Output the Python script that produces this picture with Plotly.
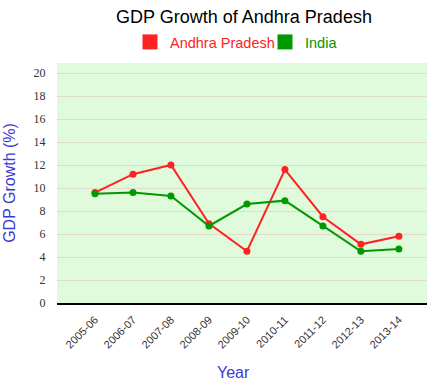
import plotly.graph_objects as go

years = ["2005-06", "2006-07", "2007-08", "2008-09", "2009-10",
         "2010-11", "2011-12", "2012-13", "2013-14"]
andhra = [9.6, 11.2, 12.0, 6.9, 4.5, 11.6, 7.5, 5.1, 5.8]
india = [9.5, 9.6, 9.3, 6.7, 8.6, 8.9, 6.7, 4.5, 4.7]
y_ticks = list(range(0, 21, 2))

RED = "#ff2222"
GREEN = "#009900"
BLUE = "#3b3bd0"

W, H = 442, 389
L, R, T, B = 57, 15, 63, 86
PW, PH = W - L - R, H - T - B

fig = go.Figure()
fig.add_trace(go.Scatter(x=years, y=andhra, mode="lines+markers", name="Andhra Pradesh",
                         line=dict(color=RED, width=2), marker=dict(size=7, color=RED),
                         showlegend=False))
fig.add_trace(go.Scatter(x=years, y=india, mode="lines+markers", name="India",
                         line=dict(color=GREEN, width=2), marker=dict(size=7, color=GREEN),
                         showlegend=False))
# legend entries with square swatches, one legend each so they can be placed
fig.add_trace(go.Scatter(x=[None], y=[None], mode="markers", legend="legend",
                         name='<span style="color:#ff2222">Andhra Pradesh</span>',
                         marker=dict(symbol="square", size=15, color=RED)))
fig.add_trace(go.Scatter(x=[None], y=[None], mode="markers", legend="legend2",
                         name='<span style="color:#009900">India</span>',
                         marker=dict(symbol="square", size=15, color=GREEN)))

leg_common = dict(orientation="h", xref="container", yref="container", xanchor="left",
                  yanchor="middle", y=1 - 42 / H, font=dict(size=14.5),
                  itemwidth=30, bgcolor="rgba(0,0,0,0)", borderwidth=0)

fig.update_layout(
    width=W, height=H,
    margin=dict(l=L, r=R, t=T, b=B, autoexpand=False),
    paper_bgcolor="white",
    plot_bgcolor="#e0fadc",
    font=dict(family="Liberation Sans, Arial, sans-serif", color="#333"),
    title=dict(text="GDP Growth of Andhra Pradesh", x=244 / W, xanchor="center",
               y=1 - 17 / H, yanchor="middle",
               font=dict(size=18, color="black")),
    legend=dict(leg_common, x=130 / W),
    legend2=dict(leg_common, x=265 / W),
    showlegend=True,
    annotations=[dict(text="Year", xref="paper", yref="paper",
                      x=(233 - L) / PW, y=-(372 - (H - B)) / PH,
                      xanchor="center", yanchor="middle", showarrow=False,
                      font=dict(size=16, color=BLUE))],
)
fig.update_xaxes(
    type="category", categoryorder="array", categoryarray=years,
    range=[-1, 8.74], showgrid=False, zeroline=False, automargin=False,
    showline=True, linecolor="black", linewidth=2,
    tickangle=-45, tickfont=dict(size=11, color="#333"),
    ticks="outside", ticklen=4, tickcolor="rgba(0,0,0,0)",
)
fig.update_yaxes(
    range=[0, 20.87], tickvals=y_ticks, ticktext=[str(v) for v in y_ticks],
    showgrid=True, gridcolor="#e2d8cc", gridwidth=1, zeroline=False,
    showline=False, automargin=False,
    tickfont=dict(size=12, family="Liberation Serif", color="#333"),
    ticks="outside", ticklen=8, tickcolor="rgba(0,0,0,0)",
    title=dict(text="GDP Growth (%)", font=dict(size=16, color=BLUE), standoff=13),
)

fig.write_html("out.html", config={"displayModeBar": False},
               post_script="document.body.style.margin='0px';")
